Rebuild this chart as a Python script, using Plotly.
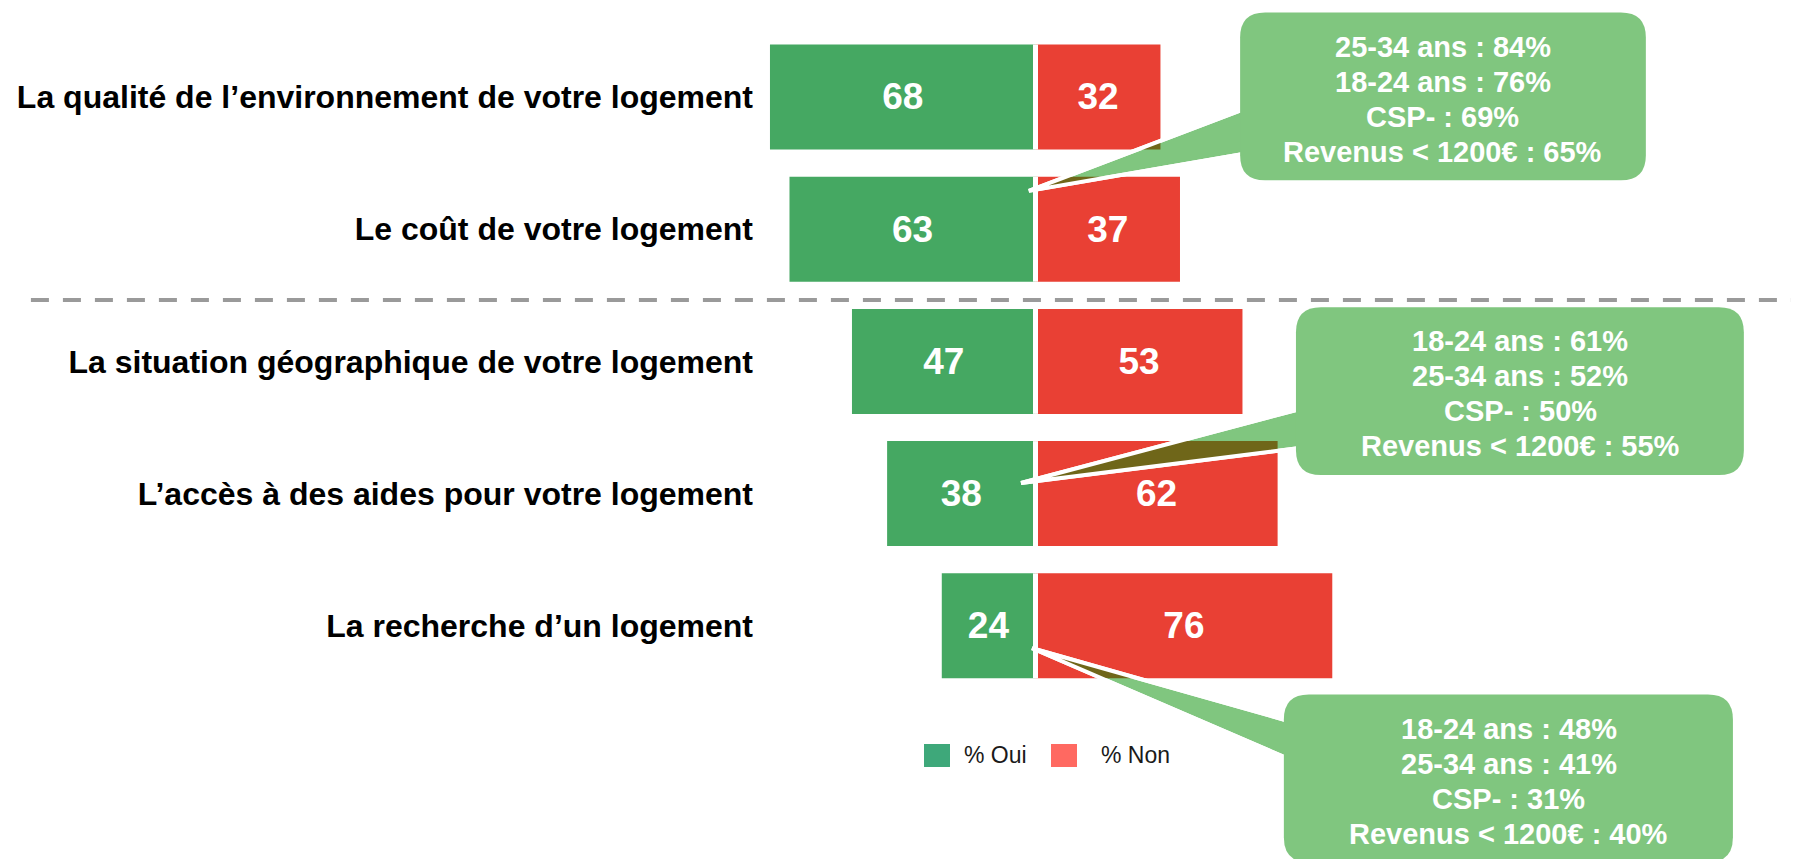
import plotly.graph_objects as go

# ---------------- data ----------------
categories = [
    "La qualité de l’environnement de votre logement",
    "Le coût de votre logement",
    "La situation géographique de votre logement",
    "L’accès à des aides pour votre logement",
    "La recherche d’un logement",
]
oui = [68, 63, 47, 38, 24]
non = [32, 37, 53, 62, 76]
series_names = ["% Oui", "% Non"]

callout_texts = [
    ["25-34 ans : 84%", "18-24 ans : 76%", "CSP- : 69%", "Revenus < 1200€ : 65%"],
    ["18-24 ans : 61%", "25-34 ans : 52%", "CSP- : 50%", "Revenus < 1200€ : 55%"],
    ["18-24 ans : 48%", "25-34 ans : 41%", "CSP- : 31%", "Revenus < 1200€ : 40%"],
]

# ---------------- styles ----------------
GREEN = "#45a862"
RED = "#e94034"
CALL = "#80c67f"
OLIVE = "#6f6619"
LEG_GREEN = "#3ea87a"
LEG_RED = "#ff6961"
FONT = "Liberation Sans, Arial, sans-serif"
BAR_W = 0.794

# callout geometry (data units: x in %, y in row index)
callout_boxes = [  # x0, x1, y0(top), y1(bottom)
    (52.4, 156.3, -0.64, 0.63),
    (66.7, 181.4, 1.59, 2.86),
    (63.6, 178.6, 4.52, 5.79),
]
callout_tips = [(-1.7, 0.71), (-3.7, 2.92), (-0.9, 4.17)]
callout_base = [(0.07, 0.42), (2.345, 2.648), (4.735, 5.03)]
callout_text_pos = [(104.3, 0.019), (124.1, 2.243), (121.2, 5.178)]
LINE_STEP = 0.263

ys = list(range(len(categories)))

fig = go.Figure()
fig.add_trace(go.Bar(
    y=ys, x=[-v for v in oui], orientation="h", name=series_names[0],
    marker=dict(color=GREEN, line=dict(width=0)), width=BAR_W,
    text=[str(v) for v in oui], textposition="inside", insidetextanchor="middle",
    textangle=0, textfont=dict(family=FONT, size=37, color="white", weight="bold"),
    showlegend=False, hoverinfo="skip",
))
fig.add_trace(go.Bar(
    y=ys, x=non, orientation="h", name=series_names[1],
    marker=dict(color=RED, line=dict(width=0)), width=BAR_W,
    text=[str(v) for v in non], textposition="inside", insidetextanchor="middle",
    textangle=0, textfont=dict(family=FONT, size=37, color="white", weight="bold"),
    showlegend=False, hoverinfo="skip",
))


def clip_poly(pts, xmin, xmax, ymin, ymax):
    def clip(points, inside, inter):
        out = []
        n = len(points)
        for k in range(n):
            cur = points[k]
            prev = points[k - 1]
            if inside(cur):
                if not inside(prev):
                    out.append(inter(prev, cur))
                out.append(cur)
            elif inside(prev):
                out.append(inter(prev, cur))
        return out

    def ix(xc):
        return lambda a, b: (xc, a[1] + (b[1] - a[1]) * (xc - a[0]) / (b[0] - a[0]))

    def iy(yc):
        return lambda a, b: (a[0] + (b[0] - a[0]) * (yc - a[1]) / (b[1] - a[1]), yc)

    p = pts
    for inside, inter in [
        (lambda q: q[0] >= xmin, ix(xmin)),
        (lambda q: q[0] <= xmax, ix(xmax)),
        (lambda q: q[1] >= ymin, iy(ymin)),
        (lambda q: q[1] <= ymax, iy(ymax)),
    ]:
        if not p:
            break
        p = clip(p, inside, inter)
    return p


def poly_path(pts):
    return "M " + " L ".join(f"{x:.4f},{y:.4f}" for x, y in pts) + " Z"


def rounded_rect(x0, x1, y0, y1, rx=6.4, ry=0.19):
    return (f"M {x0+rx},{y0} L {x1-rx},{y0} Q {x1},{y0} {x1},{y0+ry} "
            f"L {x1},{y1-ry} Q {x1},{y1} {x1-rx},{y1} L {x0+rx},{y1} "
            f"Q {x0},{y1} {x0},{y1-ry} L {x0},{y0+ry} Q {x0},{y0} {x0+rx},{y0} Z")


shapes = []
# dashed separator between the two groups
shapes.append(dict(type="line", xref="paper", yref="y", x0=-0.705, x1=1.0,
                   y0=1.536, y1=1.536, line=dict(color="#9a9a9a", width=4, dash="18px,14px")))
# white separators at zero
for i in ys:
    shapes.append(dict(type="line", xref="x", yref="y", x0=0, x1=0,
                       y0=i - BAR_W / 2, y1=i + BAR_W / 2, line=dict(color="white", width=5)))

for k in range(len(callout_texts)):
    bx0, bx1, by0, by1 = callout_boxes[k]
    tip = callout_tips[k]
    wedge = [tip, (bx0 + 3, callout_base[k][0]), (bx0 + 3, callout_base[k][1])]
    shapes.append(dict(type="path", xref="x", yref="y", path=poly_path(wedge),
                       fillcolor=CALL, line=dict(color="white", width=4)))
    for i in ys:
        yl, yh = i - BAR_W / 2, i + BAR_W / 2
        red_part = clip_poly(wedge, 0, non[i], yl, yh)
        if len(red_part) >= 3:
            shapes.append(dict(type="path", xref="x", yref="y", path=poly_path(red_part),
                               fillcolor=OLIVE, line=dict(width=0)))
        green_part = clip_poly(wedge, -oui[i], 0, yl, yh)
        if len(green_part) >= 3:
            shapes.append(dict(type="path", xref="x", yref="y", path=poly_path(green_part),
                               fillcolor=GREEN, line=dict(width=0)))
    shapes.append(dict(type="path", xref="x", yref="y", path=poly_path(wedge),
                       fillcolor="rgba(0,0,0,0)", line=dict(color="white", width=4)))
    shapes.append(dict(type="path", xref="x", yref="y", path=rounded_rect(bx0, bx1, by0, by1),
                       fillcolor=CALL, line=dict(width=0)))

# manual legend swatches
shapes.append(dict(type="rect", xref="x", yref="y", x0=-28.55, x1=-21.9, y0=4.894, y1=5.068,
                   fillcolor=LEG_GREEN, line=dict(width=0)))
shapes.append(dict(type="rect", xref="x", yref="y", x0=3.97, x1=10.63, y0=4.894, y1=5.068,
                   fillcolor=LEG_RED, line=dict(width=0)))

annotations = []
for k, lines in enumerate(callout_texts):
    tx, ty = callout_text_pos[k]
    n = len(lines)
    for j, line in enumerate(lines):
        annotations.append(dict(x=tx, y=ty + (j - (n - 1) / 2) * LINE_STEP, xref="x", yref="y",
                                showarrow=False, text=line, align="center",
                                font=dict(family=FONT, size=29, color="white", weight="bold")))
annotations.append(dict(x=-18.8, y=4.977, xref="x", yref="y", showarrow=False, xanchor="left",
                        text=series_names[0], font=dict(family=FONT, size=23, color="#1a1a1a")))
annotations.append(dict(x=16.3, y=4.977, xref="x", yref="y", showarrow=False, xanchor="left",
                        text=series_names[1], font=dict(family=FONT, size=23, color="#1a1a1a")))

fig.update_layout(
    width=1791, height=851,
    margin=dict(l=754, r=0, t=0, b=0, pad=0),
    barmode="relative",
    plot_bgcolor="white", paper_bgcolor="white",
    showlegend=False,
    shapes=shapes, annotations=annotations,
    font=dict(family=FONT),
)
fig.update_xaxes(range=[-70.04, 195.52], showgrid=False, zeroline=False, showticklabels=False,
                 showline=False, ticks="", automargin=False, fixedrange=True)
fig.update_yaxes(range=[5.764, -0.6732], tickmode="array", tickvals=ys, ticktext=categories,
                 showgrid=False, zeroline=False, showline=False, ticks="", automargin=False,
                 ticklabelstandoff=8,
                 tickfont=dict(family=FONT, size=32, color="black", weight="bold"),
                 fixedrange=True)

fig.write_html("out.html")
